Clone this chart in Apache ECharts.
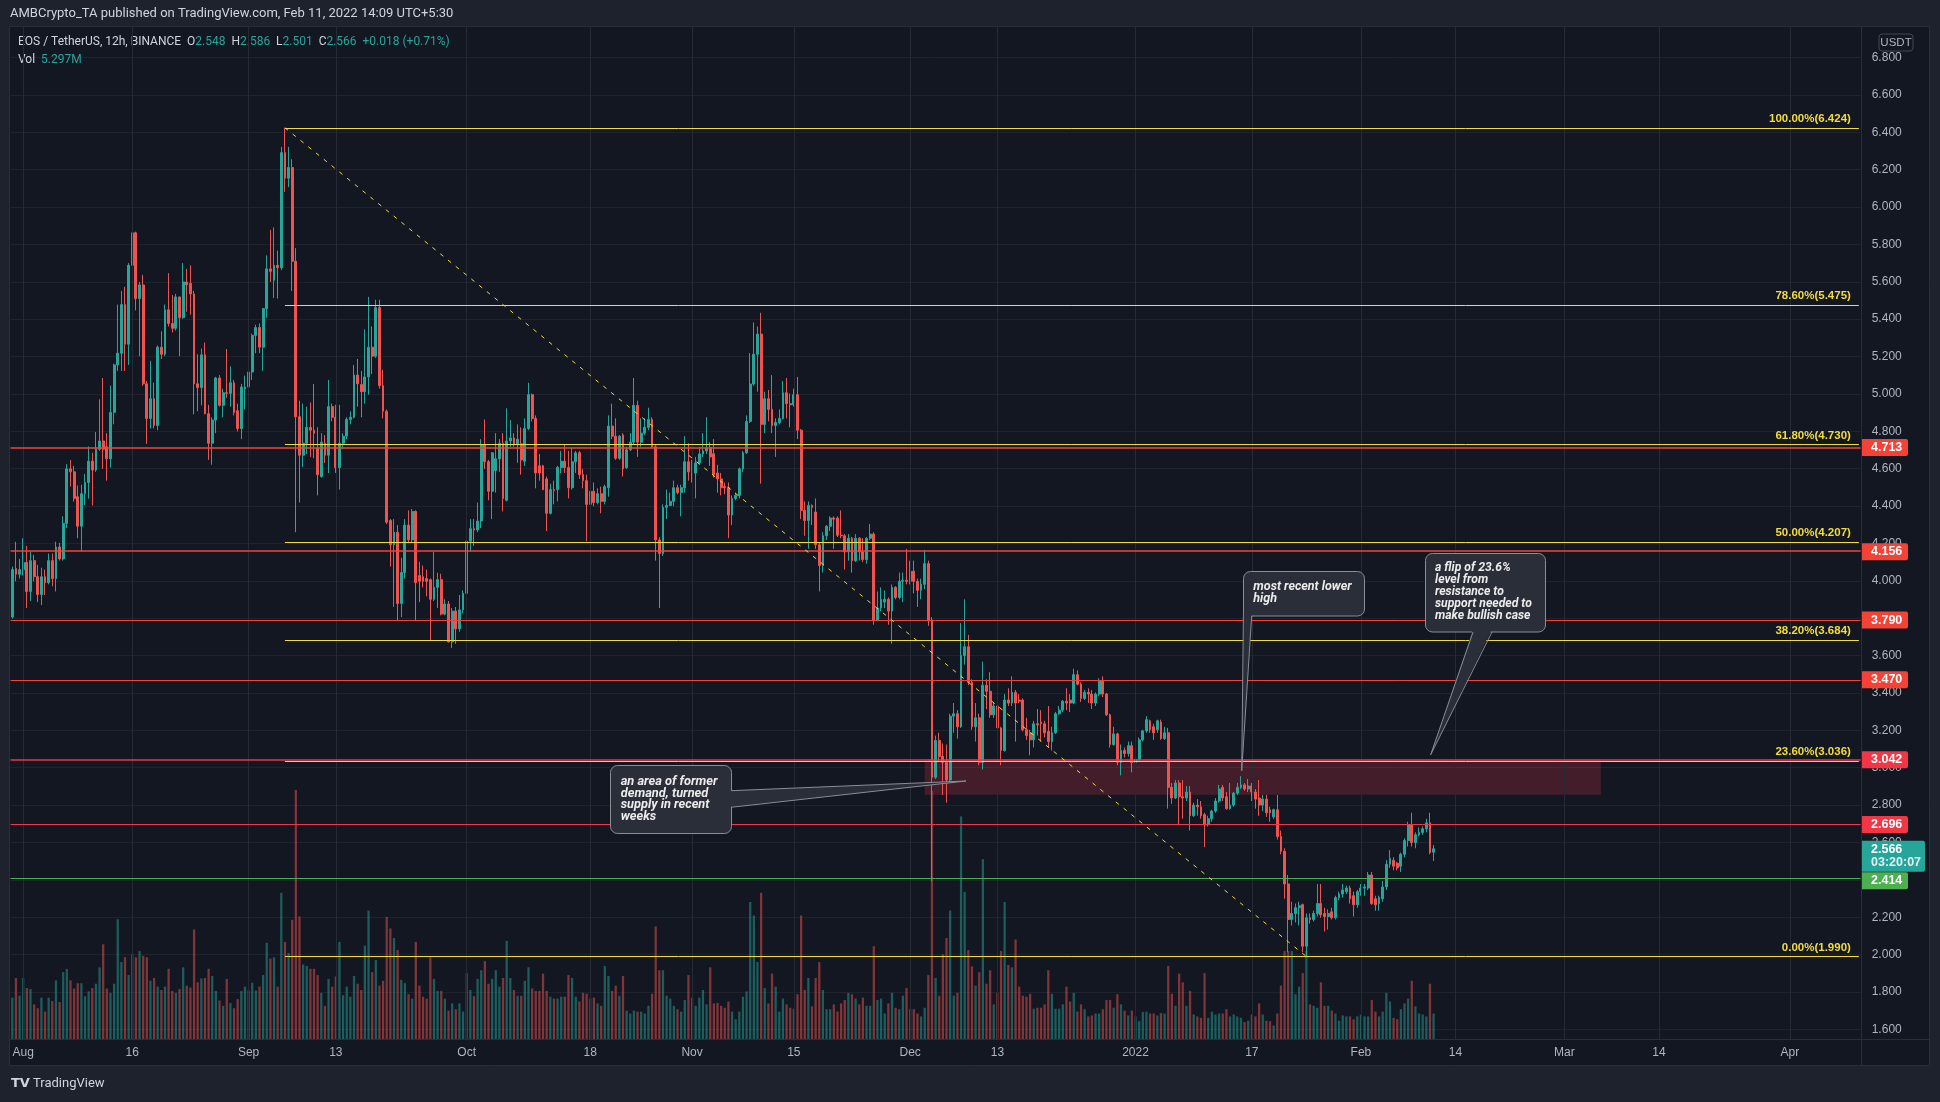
<!DOCTYPE html>
<html><head><meta charset="utf-8">
<script src="https://cdn.jsdelivr.net/npm/echarts@6/dist/echarts.min.js"></script>
<style>html,body{margin:0;padding:0;background:#131722;}#c{width:1940px;height:1102px;}</style>
</head><body><div id="c"></div><script>
// ---------------- DATA ----------------
const firstBarUTC = Date.UTC(2021, 6, 30, 12); // first 12h candle: 2021-07-30 12:00 UTC
const opens = [3.806,4.066,4.035,4.060,4.098,3.943,4.108,4.022,3.927,4.022,
3.990,4.108,4.012,4.181,4.117,4.307,4.599,4.583,4.450,4.292,
4.466,4.526,4.640,4.593,4.704,4.748,4.717,4.653,4.901,5.155,
5.218,5.478,5.266,5.688,5.862,5.510,5.583,5.054,4.869,4.974,
4.831,5.250,5.212,5.450,5.377,5.351,5.519,5.408,5.599,5.592,
5.535,5.054,5.034,5.209,4.894,4.736,4.860,5.085,4.939,5.006,
5.003,5.060,4.910,4.815,5.028,5.037,5.117,5.313,5.355,5.250,
5.456,5.669,5.608,5.688,5.675,6.291,6.154,6.211,5.710,4.878,
4.672,4.736,4.821,4.806,4.710,4.558,4.736,4.672,4.932,4.875,
4.606,4.736,4.774,4.863,4.875,5.101,5.050,5.012,5.091,5.250,
5.202,5.462,5.044,4.907,4.323,4.193,4.260,3.879,4.044,4.298,
4.219,4.371,4.028,4.022,4.012,4.006,3.901,3.965,4.006,3.822,
3.876,3.673,3.838,3.743,3.844,3.933,4.212,4.279,4.272,4.320,
4.726,4.637,4.479,4.590,4.653,4.736,4.431,4.748,4.764,4.733,
4.733,4.640,4.815,4.996,4.869,4.615,4.615,4.545,4.361,4.488,
4.488,4.606,4.640,4.606,4.498,4.637,4.685,4.568,4.536,4.409,
4.479,4.419,4.466,4.425,4.498,4.828,4.774,4.656,4.780,4.606,
4.701,4.742,4.939,4.742,4.790,4.821,4.863,4.717,4.219,4.146,
4.393,4.403,4.425,4.498,4.472,4.498,4.637,4.583,4.577,4.631,
4.679,4.695,4.712,4.680,4.577,4.545,4.504,4.498,4.352,4.441,
4.457,4.599,4.685,4.853,5.053,5.212,5.320,4.837,4.974,4.917,
4.831,4.847,4.869,5.006,4.948,4.942,4.996,4.806,4.377,4.323,
4.403,4.368,4.193,4.082,4.241,4.292,4.336,4.336,4.244,4.241,
4.155,4.228,4.108,4.228,4.155,4.114,4.228,4.250,3.790,3.854,
3.886,3.901,3.838,3.965,3.911,3.997,4.003,3.997,4.051,3.997,
3.949,3.981,4.092,3.790,2.949,3.146,3.060,3.029,2.934,3.276,
3.289,3.219,3.600,3.647,3.457,3.219,3.267,3.029,3.441,3.409,
3.283,3.330,3.213,3.092,3.362,3.346,3.403,3.362,3.362,3.203,
3.187,3.149,3.235,3.244,3.235,3.194,3.140,3.187,3.289,3.308,
3.356,3.362,3.346,3.498,3.447,3.371,3.403,3.394,3.346,3.394,
3.467,3.394,3.283,3.124,3.181,3.029,3.092,3.076,3.118,3.029,
3.045,3.149,3.197,3.251,3.219,3.203,3.244,3.156,3.187,2.895,
2.838,2.918,2.845,2.838,2.870,2.743,2.800,2.791,2.749,2.695,
2.727,2.768,2.822,2.895,2.845,2.781,2.800,2.864,2.895,2.908,
2.886,2.902,2.870,2.838,2.800,2.832,2.775,2.737,2.775,2.632,
2.553,2.378,2.188,2.220,2.251,2.267,2.045,2.197,2.188,2.220,
2.273,2.220,2.204,2.229,2.197,2.305,2.324,2.337,2.356,2.315,
2.267,2.337,2.356,2.356,2.426,2.299,2.273,2.299,2.362,2.483,
2.505,2.489,2.473,2.537,2.610,2.695,2.600,2.641,2.654,2.673,
2.705,2.548];
const highs = [4.076,4.209,4.117,4.228,4.187,4.155,4.139,4.085,4.070,4.060,
4.146,4.146,4.209,4.203,4.345,4.624,4.646,4.615,4.510,4.514,
4.571,4.719,4.685,4.796,4.971,5.085,4.790,5.044,5.161,5.478,
5.551,5.573,5.700,5.932,5.868,5.599,5.637,5.069,5.177,5.060,
5.259,5.335,5.478,5.646,5.529,5.535,5.519,5.700,5.669,5.688,
5.551,5.212,5.243,5.275,4.942,4.875,5.091,5.101,5.028,5.240,
5.148,5.075,4.948,5.054,5.098,5.164,5.323,5.370,5.377,5.460,
5.741,5.878,5.891,5.767,6.322,6.424,6.322,6.256,5.780,4.964,
4.948,4.932,4.955,5.053,4.821,4.790,4.780,5.075,4.948,4.942,
4.942,4.790,4.875,4.907,5.155,5.187,5.123,5.345,5.519,5.361,
5.504,5.504,5.129,4.917,4.330,4.330,4.298,4.123,4.330,4.377,
4.384,4.377,4.101,4.082,4.060,4.012,4.155,4.044,4.038,3.901,
3.892,3.854,3.860,3.924,3.949,4.250,4.330,4.330,4.419,4.758,
4.863,4.647,4.688,4.790,4.758,4.790,4.923,4.860,4.790,4.837,
4.821,4.869,5.060,5.002,4.885,4.679,4.621,4.558,4.520,4.536,
4.615,4.695,4.726,4.695,4.710,4.695,4.695,4.599,4.568,4.552,
4.526,4.495,4.504,4.514,4.885,4.948,4.869,4.780,4.790,4.717,
4.790,5.085,4.964,4.869,4.869,4.926,4.875,4.726,4.234,4.409,
4.488,4.472,4.536,4.514,4.514,4.774,4.736,4.647,4.663,4.717,
4.790,4.875,4.742,4.758,4.621,4.577,4.526,4.526,4.457,4.472,
4.606,4.695,4.885,5.218,5.383,5.361,5.434,5.012,5.021,5.101,
4.869,4.917,5.069,5.085,5.002,5.028,5.091,4.812,4.425,4.425,
4.409,4.441,4.203,4.260,4.298,4.345,4.345,4.345,4.377,4.250,
4.250,4.234,4.250,4.234,4.228,4.234,4.304,4.260,3.943,3.965,
3.949,3.911,3.981,3.971,4.044,4.044,4.171,4.108,4.108,4.012,
4.012,4.165,4.108,3.806,3.172,3.187,3.130,3.124,3.289,3.346,
3.308,3.774,3.901,3.711,3.473,3.346,3.289,3.568,3.473,3.511,
3.346,3.378,3.219,3.394,3.425,3.489,3.416,3.394,3.371,3.267,
3.203,3.251,3.314,3.308,3.251,3.330,3.219,3.298,3.330,3.362,
3.425,3.394,3.530,3.521,3.457,3.416,3.425,3.416,3.403,3.479,
3.489,3.400,3.289,3.219,3.187,3.124,3.108,3.140,3.140,3.140,
3.162,3.203,3.276,3.257,3.235,3.257,3.257,3.219,3.213,2.918,
2.934,2.934,2.934,2.902,2.902,2.813,2.832,2.822,2.759,2.743,
2.775,2.838,2.908,2.908,2.870,2.918,2.870,2.918,2.955,2.918,
2.940,2.918,2.886,2.934,2.854,2.854,2.791,2.781,2.854,2.664,
2.569,2.426,2.283,2.273,2.283,2.273,2.220,2.220,2.235,2.378,
2.378,2.251,2.242,2.251,2.315,2.337,2.378,2.369,2.369,2.337,
2.346,2.378,2.378,2.442,2.442,2.315,2.315,2.394,2.505,2.559,
2.521,2.496,2.546,2.622,2.711,2.759,2.654,2.680,2.686,2.727,
2.759,2.586];
const lows = [3.797,3.997,4.013,4.028,3.854,3.892,3.997,3.886,3.870,3.924,
3.981,3.971,3.943,4.108,4.108,4.282,4.504,4.424,4.228,4.155,
4.406,4.440,4.403,4.583,4.695,4.599,4.536,4.606,4.837,5.123,
5.123,5.123,5.155,5.678,5.447,5.202,5.044,4.733,4.815,4.815,
4.806,5.187,5.202,5.361,5.329,5.339,5.202,5.402,5.440,5.424,
4.891,4.907,4.939,4.891,4.647,4.621,4.790,4.932,4.875,4.980,
4.932,4.885,4.799,4.758,4.917,4.942,5.075,5.218,5.218,5.123,
5.408,5.599,5.513,5.510,5.662,6.081,6.106,5.551,4.260,4.419,
4.609,4.679,4.663,4.656,4.457,4.552,4.631,4.577,4.853,4.577,
4.488,4.704,4.758,4.837,4.869,4.932,4.875,4.948,4.996,5.107,
5.193,5.028,4.869,4.304,4.076,3.860,3.784,3.806,4.012,4.203,
4.203,3.790,3.886,3.965,3.917,3.679,3.892,3.854,3.815,3.816,
3.670,3.641,3.663,3.727,3.828,3.911,4.155,4.187,4.260,4.282,
4.599,4.431,4.330,4.472,4.583,4.371,4.425,4.717,4.717,4.631,
4.568,4.615,4.806,4.853,4.495,4.536,4.485,4.266,4.355,4.409,
4.425,4.577,4.577,4.441,4.488,4.577,4.545,4.495,4.212,4.399,
4.399,4.409,4.361,4.409,4.450,4.758,4.647,4.647,4.558,4.599,
4.695,4.726,4.663,4.717,4.780,4.806,4.710,4.108,3.854,4.133,
4.330,4.399,4.399,4.463,4.345,4.472,4.536,4.526,4.441,4.621,
4.663,4.679,4.615,4.552,4.472,4.457,4.463,4.228,4.298,4.431,
4.441,4.583,4.679,4.844,5.044,5.012,4.520,4.790,4.853,4.790,
4.663,4.837,4.863,4.869,4.821,4.932,4.758,4.330,4.241,4.171,
4.298,4.171,3.943,4.044,4.219,4.266,4.171,4.234,4.228,4.060,
4.108,4.044,4.101,4.108,4.101,4.092,4.219,3.765,3.784,3.838,
3.854,3.765,3.663,3.901,3.901,3.886,3.981,3.981,3.933,3.860,
3.901,3.955,3.759,2.394,2.940,3.029,2.854,2.813,2.918,3.187,
3.156,3.213,3.552,3.441,3.203,3.140,3.013,2.991,3.314,3.267,
3.267,3.156,3.013,3.086,3.330,3.330,3.140,3.346,3.194,3.149,
3.067,3.108,3.172,3.140,3.162,3.108,3.092,3.181,3.283,3.298,
3.308,3.298,3.340,3.441,3.352,3.362,3.346,3.314,3.330,3.384,
3.378,3.276,3.108,3.118,3.013,2.959,3.054,3.060,2.975,3.022,
3.035,3.140,3.187,3.187,3.149,3.187,3.149,3.149,2.781,2.807,
2.832,2.695,2.727,2.822,2.664,2.737,2.743,2.727,2.575,2.686,
2.711,2.759,2.813,2.822,2.775,2.775,2.791,2.854,2.886,2.876,
2.870,2.822,2.781,2.743,2.768,2.737,2.711,2.727,2.616,2.537,
2.299,2.013,2.156,2.172,2.156,2.013,1.990,2.166,2.178,2.204,
2.197,2.124,2.134,2.188,2.188,2.292,2.305,2.324,2.273,2.204,
2.251,2.315,2.315,2.346,2.267,2.235,2.235,2.283,2.346,2.464,
2.451,2.451,2.442,2.521,2.578,2.578,2.569,2.632,2.641,2.654,
2.537,2.501];
const closes = [4.060,4.035,4.060,4.098,3.943,4.108,4.022,3.927,4.022,3.990,
4.108,4.012,4.181,4.117,4.307,4.599,4.583,4.440,4.292,4.466,
4.526,4.640,4.593,4.704,4.748,4.704,4.653,4.901,5.155,5.218,
5.478,5.266,5.688,5.862,5.510,5.583,5.054,4.869,4.974,4.831,
5.250,5.212,5.450,5.377,5.351,5.519,5.408,5.599,5.583,5.535,
5.054,5.034,5.209,4.894,4.736,4.860,5.085,4.939,5.006,5.003,
5.060,4.901,4.815,5.037,5.037,5.117,5.313,5.355,5.250,5.456,
5.669,5.656,5.688,5.675,6.291,6.154,6.211,5.710,4.878,4.672,
4.736,4.821,4.806,4.790,4.568,4.742,4.672,4.932,4.875,4.606,
4.736,4.774,4.863,4.875,5.101,5.054,5.012,5.091,5.250,5.202,
5.462,5.044,4.907,4.314,4.193,4.260,3.879,4.044,4.298,4.219,
4.371,3.990,3.997,3.997,3.997,3.901,3.965,4.006,3.822,3.876,
3.673,3.838,3.743,3.844,3.933,4.212,4.279,4.272,4.320,4.726,
4.637,4.479,4.685,4.653,4.736,4.441,4.748,4.764,4.733,4.758,
4.647,4.815,4.996,4.869,4.577,4.577,4.488,4.361,4.488,4.482,
4.606,4.640,4.606,4.498,4.637,4.685,4.568,4.536,4.409,4.479,
4.419,4.466,4.425,4.504,4.828,4.774,4.656,4.774,4.599,4.701,
4.742,4.939,4.742,4.790,4.821,4.863,4.717,4.219,4.146,4.393,
4.403,4.425,4.498,4.472,4.498,4.637,4.583,4.577,4.631,4.679,
4.695,4.710,4.663,4.568,4.545,4.498,4.498,4.352,4.441,4.457,
4.599,4.685,4.853,5.053,5.212,5.320,4.837,4.974,4.917,4.831,
4.847,4.869,5.006,4.948,4.942,4.996,4.806,4.377,4.323,4.403,
4.393,4.193,4.082,4.241,4.292,4.336,4.330,4.244,4.241,4.155,
4.228,4.108,4.228,4.155,4.114,4.228,4.250,3.790,3.854,3.901,
3.901,3.838,3.965,3.911,3.997,4.003,3.997,4.051,3.997,3.949,
3.981,4.092,3.790,2.949,3.146,3.060,3.029,2.934,3.276,3.289,
3.219,3.600,3.647,3.457,3.219,3.267,3.029,3.441,3.409,3.283,
3.330,3.213,3.092,3.362,3.346,3.403,3.346,3.356,3.203,3.172,
3.149,3.235,3.229,3.235,3.187,3.140,3.187,3.289,3.308,3.356,
3.346,3.346,3.498,3.447,3.371,3.403,3.394,3.346,3.394,3.467,
3.394,3.283,3.124,3.181,3.029,3.092,3.076,3.118,3.029,3.045,
3.149,3.197,3.257,3.203,3.187,3.251,3.156,3.187,2.895,2.838,
2.918,2.845,2.838,2.870,2.743,2.800,2.791,2.743,2.695,2.727,
2.768,2.822,2.886,2.838,2.781,2.800,2.864,2.895,2.908,2.886,
2.902,2.870,2.832,2.800,2.832,2.759,2.759,2.775,2.632,2.553,
2.378,2.188,2.220,2.251,2.261,2.045,2.197,2.188,2.220,2.273,
2.213,2.204,2.220,2.197,2.305,2.324,2.346,2.356,2.299,2.267,
2.337,2.356,2.362,2.426,2.273,2.267,2.305,2.362,2.483,2.515,
2.473,2.464,2.537,2.610,2.695,2.600,2.641,2.654,2.673,2.705,
2.546,2.566];
const volumesM = [8.6,12.7,9.0,12.7,10.6,10.4,7.2,6.4,8.6,5.7,
8.6,7.9,12.2,7.7,13.9,14.6,12.2,10.5,11.6,11.6,
8.9,9.9,10.6,11.5,14.9,19.7,10.5,9.6,11.5,24.9,
16.0,17.0,13.3,17.6,17.0,18.3,17.3,17.0,12.1,12.7,
10.9,10.2,10.9,14.6,10.0,9.6,10.4,14.9,11.1,10.7,
22.8,11.8,12.6,12.7,14.6,13.1,10.0,8.0,6.9,12.5,
7.5,6.4,8.3,10.0,10.9,10.1,11.7,10.1,10.9,13.3,
20.0,16.7,17.0,10.9,30.4,20.2,17.9,24.8,51.8,25.5,
15.5,15.2,14.6,14.6,13.3,9.6,6.9,12.5,10.9,13.0,
20.2,9.1,10.9,8.8,13.1,11.5,10.2,19.4,26.7,13.9,
16.4,11.1,12.1,25.4,23.0,21.0,18.5,12.3,11.6,9.3,
8.4,20.2,11.1,8.8,8.4,17.0,12.5,10.0,10.0,8.4,
5.9,7.4,6.2,7.4,5.7,13.7,10.2,8.9,12.5,14.3,
16.2,11.5,12.5,14.3,10.9,12.7,20.4,12.7,10.2,9.0,
9.0,12.1,14.9,10.5,10.0,10.0,13.6,10.0,8.8,8.4,
8.4,8.8,8.8,13.3,12.7,8.8,7.8,9.6,9.4,8.4,
8.6,7.4,6.9,15.2,13.1,10.0,11.1,9.0,13.1,5.9,
5.3,5.9,5.7,5.7,5.3,6.9,9.4,23.4,14.3,14.3,
9.0,8.4,6.9,6.2,5.7,8.1,13.3,8.6,6.9,8.6,
10.2,7.2,14.9,7.4,7.5,6.9,6.5,7.8,5.7,4.1,
5.7,8.8,9.9,28.5,25.7,16.0,30.4,10.6,7.4,13.6,
10.9,5.7,8.4,7.2,6.5,6.3,9.3,25.7,10.2,12.7,
6.8,12.7,16.0,10.2,6.2,6.2,7.2,5.7,7.4,8.1,
9.6,9.3,8.4,7.2,8.6,6.9,6.9,19.3,8.1,8.4,
5.3,7.4,9.6,6.5,6.2,9.0,10.6,6.2,6.2,5.3,
4.7,6.5,13.3,51.6,12.7,9.0,17.6,21.0,26.7,9.0,
9.6,46.3,30.6,18.5,15.1,11.1,13.9,37.4,11.5,14.3,
7.2,9.6,18.3,28.5,15.4,14.9,20.7,10.9,9.0,8.8,
9.4,6.3,6.5,6.5,7.2,14.3,9.4,6.3,6.3,7.2,
10.9,7.8,9.6,5.7,7.2,6.2,4.7,4.9,5.3,5.3,
6.2,8.1,8.1,6.5,9.3,7.2,5.9,4.9,5.9,4.7,
3.7,5.6,5.7,5.3,5.3,4.9,5.4,5.3,15.2,9.4,
6.9,13.6,11.8,6.9,10.0,5.1,4.7,4.4,13.7,4.4,
5.7,5.1,5.3,5.3,6.2,4.7,5.1,4.7,4.4,3.5,
3.8,5.1,4.7,7.4,5.1,3.8,3.7,2.8,5.3,11.1,
18.3,18.3,18.3,9.3,10.9,13.7,18.3,7.2,6.9,6.5,
11.8,6.9,6.9,5.9,5.3,3.8,4.9,4.7,4.7,4.1,
4.7,5.1,4.7,4.7,8.1,5.7,4.7,5.7,9.6,7.8,
4.4,4.1,6.2,7.4,8.4,12.1,6.8,5.3,5.1,4.7,
11.5,5.297];
const tickDates  = ['2021-08-01','2021-08-16','2021-09-01','2021-09-13','2021-10-01','2021-10-18','2021-11-01','2021-11-15','2021-12-01','2021-12-13','2022-01-01','2022-01-17','2022-02-01','2022-02-14','2022-03-01','2022-03-14','2022-04-01'];
const tickLabels = ['Aug','16','Sep','13','Oct','18','Nov','15','Dec','13','2022','17','Feb','14','Mar','14','Apr'];
const fibLevels = [1.990, 3.036, 3.684, 4.207, 4.730, 5.475, 6.424];
const fibNames  = ['0.00%','23.60%','38.20%','50.00%','61.80%','78.60%','100.00%'];
const redLevels = [4.713, 4.156, 3.790, 3.470, 3.042, 2.696];
const greenLevel = 2.414;
const zoneTop = 3.042, zoneBottom = 2.855;
const lastPrice = 2.566;
const fibHighBar = 75, fibLowBar = 356, zoneStartBar = 251, zoneEndBar = 437;

// ---------------- BUILD ----------------
const SLOTS = 509;
const pad = n => (n < 10 ? '0' : '') + n;
const cats = [];
for (let k = 0; k < SLOTS; k++) {
  const d = new Date(firstBarUTC + k * 43200000);
  const s = d.getUTCFullYear() + '-' + pad(d.getUTCMonth() + 1) + '-' + pad(d.getUTCDate());
  cats.push(d.getUTCHours() === 0 ? s : s + ' 12');
}
const tickMap = {};
tickDates.forEach((d, i) => tickMap[d] = tickLabels[i]);

const candleData = opens.map((o, i) => [o, closes[i], lows[i], highs[i]]);
const UP = '#26a69a', DOWN = '#ef5350';
const volData = volumesM.map((v, i) => ({
  value: v,
  itemStyle: { color: closes[i] >= opens[i] ? 'rgba(38,166,154,0.5)' : 'rgba(239,83,80,0.5)' }
}));

const FIB = '#f2dc3a';
const fibLines = fibLevels.map((lv, i) => [
  { name: fibNames[i] + '(' + lv.toFixed(3) + ')', coord: [cats[fibHighBar], lv] },
  { coord: [cats[SLOTS - 1], lv] }
]);
const redColors = ['#f44336', '#f44336', '#f44336', '#f44336', '#f23645', '#f23645'];
const hLines = redLevels.map((lv, i) => ({
  yAxis: lv, lineStyle: { color: redColors[i], width: (i === 0 || i === 1 || i === 4) ? 1.5 : 1, type: 'solid' }
}));
hLines.push({ yAxis: greenLevel, lineStyle: { color: '#4caf50', width: 1, type: 'solid' } });

const vLines = tickDates.map(d => ({ xAxis: d }));

const GRID_TOP = 26, GRID_H = 1013;
const FONT = 'Liberation Sans, Arial, sans-serif';

const chart = echarts.init(document.getElementById('c'));
chart.setOption({
  animation: false,
  backgroundColor: '#131722',
  grid: { left: 10.5, top: GRID_TOP, width: 1850.2, height: GRID_H, containLabel: false },
  xAxis: {
    type: 'category', data: cats, boundaryGap: true,
    axisLine: { show: false }, axisTick: { show: false },
    axisLabel: {
      interval: (idx, val) => tickMap[val] !== undefined,
      formatter: val => tickMap[val] || '',
      color: '#b2b5be', fontSize: 12, fontFamily: FONT, margin: 8
    },
    splitLine: { show: false }
  },
  yAxis: [{
    type: 'value', position: 'right', min: 1.5485, max: 6.9685,
    splitNumber: 27, minInterval: 0.2, maxInterval: 0.2,
    axisLine: { show: false }, axisTick: { show: false },
    axisLabel: {
      formatter: v => v.toFixed(3), color: '#b2b5be', fontSize: 12, fontFamily: FONT,
      align: 'left', margin: 11, showMinLabel: false, showMaxLabel: false
    },
    splitLine: { show: true, lineStyle: { color: '#1f232e', width: 1 } }
  }, {
    type: 'value', min: 0, max: 210.7, show: false, splitLine: { show: false }
  }],
  series: [{
    type: 'bar', name: 'vol', xAxisIndex: 0, yAxisIndex: 1, data: volData,
    barWidth: '62%', z: 1, silent: true,
    markLine: {
      silent: true, symbol: ['none', 'none'], label: { show: false },
      lineStyle: { color: '#262a35', width: 1, type: 'solid' },
      data: vLines
    }
  }, {
    type: 'candlestick', name: 'EOSUSDT', data: candleData, z: 3, barWidth: '64%',
    itemStyle: { color: UP, color0: DOWN, borderColor: UP, borderColor0: DOWN, borderWidth: 1 },
    markArea: {
      silent: true, itemStyle: { color: 'rgba(242,54,69,0.22)' },
      data: [[{ coord: [cats[zoneStartBar], zoneTop] }, { coord: [cats[zoneEndBar], zoneBottom] }]]
    },
    markLine: {
      silent: true, symbol: ['none', 'none'],
      label: { show: false },
      data: hLines.concat(fibLines.map(p => [
        Object.assign({}, p[0], {
          lineStyle: { color: FIB, width: 1, type: 'solid' },
          label: { show: true, position: 'insideEndTop', formatter: '{b}', color: FIB, fontSize: 11.5, fontWeight: 'bold', fontFamily: FONT, distance: [8, 3] }
        }), p[1]
      ])).concat([[
        { coord: [cats[fibHighBar], fibLevels[6]], lineStyle: { color: FIB, width: 1, type: [4, 6] }, label: { show: false } },
        { coord: [cats[fibLowBar], fibLevels[0]] }
      ]])
    }
  }]
});

// ---------------- OVERLAYS ----------------
const py = v => chart.convertToPixel({ yAxisIndex: 0 }, v);
const g = [];
const FRAME = '#1e222d';
g.push({ type: 'rect', shape: { x: 0, y: 0, width: 1940, height: 26 }, style: { fill: FRAME }, silent: true });
g.push({ type: 'rect', shape: { x: 0, y: 1066, width: 1940, height: 36 }, style: { fill: FRAME }, silent: true });
g.push({ type: 'rect', shape: { x: 0, y: 0, width: 9, height: 1102 }, style: { fill: FRAME }, silent: true });
g.push({ type: 'rect', shape: { x: 1930, y: 0, width: 10, height: 1102 }, style: { fill: FRAME }, silent: true });
g.push({ type: 'rect', shape: { x: 9.5, y: 26.5, width: 1920, height: 1039 }, style: { fill: null, stroke: '#2a2e39', lineWidth: 1 }, silent: true });
g.push({ type: 'line', shape: { x1: 1861.5, y1: 26, x2: 1861.5, y2: 1066 }, style: { stroke: '#2a2e39', lineWidth: 1 }, silent: true });
g.push({ type: 'line', shape: { x1: 9, y1: 1039.5, x2: 1930, y2: 1039.5 }, style: { stroke: '#2a2e39', lineWidth: 1 }, silent: true });

// header
g.push({ type: 'text', x: 10, y: 14, style: { text: 'AMBCrypto_TA published on TradingView.com, Feb 11, 2022 14:09 UTC+5:30', fill: '#d1d4dc', fontSize: 13, fontFamily: 'Roboto, sans-serif', verticalAlign: 'middle' }, silent: true });
// legend
g.push({ type: 'text', x: 18, y: 42, style: {
  text: '{a|EOS / TetherUS, 12h, BINANCE}  {a|O}{v|2.548}  {a|H}{v|2.586}  {a|L}{v|2.501}  {a|C}{v|2.566}  {v|+0.018 (+0.71%)}',
  verticalAlign: 'middle', fontSize: 12, fontFamily: 'Roboto, sans-serif',
  rich: { a: { fill: '#d1d4dc', fontSize: 12, fontFamily: 'Roboto, sans-serif' }, v: { fill: '#26a69a', fontSize: 12, fontFamily: 'Roboto, sans-serif' } }
}, silent: true });
g.push({ type: 'text', x: 18, y: 60, style: {
  text: '{a|Vol}  {v|5.297M}', verticalAlign: 'middle', fontSize: 12, fontFamily: 'Roboto, sans-serif',
  rich: { a: { fill: '#d1d4dc', fontSize: 12, fontFamily: 'Roboto, sans-serif' }, v: { fill: '#26a69a', fontSize: 12, fontFamily: 'Roboto, sans-serif' } }
}, silent: true });
// USDT
g.push({ type: 'rect', shape: { x: 1879, y: 34, width: 34, height: 17, r: 3 }, style: { fill: '#131722', stroke: '#434651', lineWidth: 1 }, silent: true });
g.push({ type: 'text', x: 1896, y: 42.5, style: { text: 'USDT', fill: '#b2b5be', fontSize: 11.5, fontFamily: FONT, align: 'center', verticalAlign: 'middle' }, silent: true });

// price tags
redLevels.forEach((lv, i) => {
  const y = py(lv);
  g.push({ type: 'rect', shape: { x: 1862, y: y - 8.5, width: 46, height: 17, r: [0, 2, 2, 0] }, style: { fill: redColors[i] }, silent: true, z: 10 });
  g.push({ type: 'text', x: 1871, y: y, style: { text: lv.toFixed(3), fill: '#ffffff', fontSize: 12.5, fontWeight: 'bold', fontFamily: FONT, verticalAlign: 'middle' }, silent: true, z: 11 });
});
{
  const y = py(lastPrice);
  g.push({ type: 'rect', shape: { x: 1862, y: y - 8, width: 63, height: 31, r: [0, 2, 2, 0] }, style: { fill: '#26a69a' }, silent: true, z: 10 });
  g.push({ type: 'text', x: 1871, y: y + 1, style: { text: lastPrice.toFixed(3), fill: '#ffffff', fontSize: 12.5, fontWeight: 'bold', fontFamily: FONT, verticalAlign: 'middle' }, silent: true, z: 11 });
  g.push({ type: 'text', x: 1871, y: y + 14, style: { text: '03:20:07', fill: '#e0f2f1', fontSize: 12.5, fontWeight: 'bold', fontFamily: FONT, verticalAlign: 'middle' }, silent: true, z: 11 });
  const gy = y + 32;
  g.push({ type: 'rect', shape: { x: 1862, y: gy - 8.5, width: 46, height: 17, r: [0, 2, 2, 0] }, style: { fill: '#4caf50' }, silent: true, z: 10 });
  g.push({ type: 'text', x: 1871, y: gy, style: { text: greenLevel.toFixed(3), fill: '#ffffff', fontSize: 12.5, fontWeight: 'bold', fontFamily: FONT, verticalAlign: 'middle' }, silent: true, z: 11 });
}

// callouts
const BOX_FILL = '#2a2e39', BOX_STROKE = '#8a8d96';
function callout(rect, fillPoly, edge, lines, tx, ty, lh, fs) {
  g.push({ type: 'rect', shape: Object.assign({ r: 7 }, rect), style: { fill: BOX_FILL, stroke: BOX_STROKE, lineWidth: 1 }, silent: true, z: 20 });
  g.push({ type: 'polygon', shape: { points: fillPoly }, style: { fill: BOX_FILL }, silent: true, z: 21 });
  g.push({ type: 'polyline', shape: { points: edge }, style: { stroke: BOX_STROKE, lineWidth: 1, fill: null }, silent: true, z: 22 });
  g.push({ type: 'text', x: tx, y: ty, style: { text: lines.join('\n'), fill: '#ececec', fontSize: fs, fontStyle: 'italic', fontWeight: 'bold', fontFamily: 'Roboto, sans-serif', lineHeight: lh, verticalAlign: 'top' }, silent: true, z: 23 });
}
callout({ x: 610.5, y: 765.5, width: 121, height: 68 },
  [[728, 790.7], [966, 781], [728, 807.3]],
  [[731, 790.7], [966, 781], [731, 807.3]],
  ['an area of former', 'demand, turned', 'supply in recent', 'weeks'], 620.7, 775.8, 11.7, 12.8);
callout({ x: 1243.5, y: 571.5, width: 121, height: 44.5 },
  [[1244, 606], [1251.7, 613], [1241.7, 771]],
  [[1243.5, 606], [1241.7, 771], [1251.7, 616]],
  ['most recent lower', 'high'], 1253.3, 581, 12, 12.5);
callout({ x: 1425.5, y: 553.5, width: 120, height: 78.5 },
  [[1473, 629], [1492, 629], [1430.7, 754.7]],
  [[1473, 632], [1430.7, 754.7], [1492, 632]],
  ['a flip of 23.6%', 'level from', 'resistance to', 'support needed to', 'make bullish case'], 1435, 562.4, 11.85, 12.2);

// bottom logo
g.push({ type: 'text', x: 11, y: 1084, style: { text: 'TV', fill: '#d1d4dc', fontSize: 13, fontWeight: 'bold', fontFamily: 'DejaVu Sans, sans-serif', verticalAlign: 'middle' }, silent: true });
g.push({ type: 'text', x: 33, y: 1084, style: { text: 'TradingView', fill: '#d1d4dc', fontSize: 13, fontFamily: 'Roboto, sans-serif', verticalAlign: 'middle' }, silent: true });

chart.setOption({ graphic: { elements: g } });
</script></body></html>
